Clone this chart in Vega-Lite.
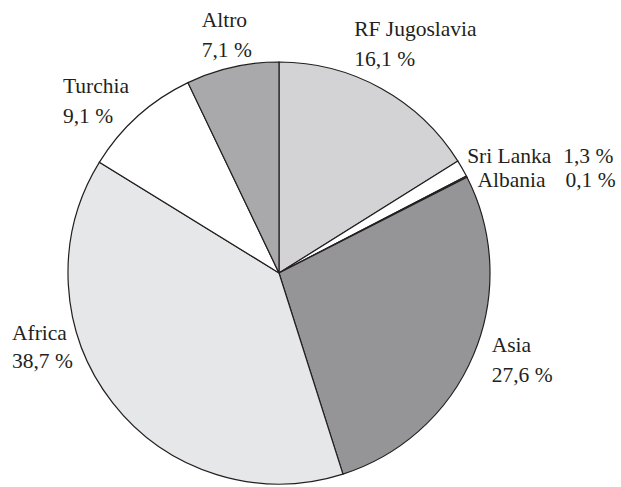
{
  "$schema": "https://vega.github.io/schema/vega-lite/v6.json",
  "width": 558,
  "height": 428,
  "autosize": {"type": "none"},
  "padding": {"left": 0, "top": 59, "right": 63, "bottom": 0},
  "background": "white",
  "config": {
    "view": {"stroke": null},
    "text": {"font": "Liberation Serif", "fontSize": 21.5, "color": "#231f20"}
  },
  "data": {
    "values": [
      {"name": "RF Jugoslavia", "value": 16.1, "ord": 1, "label": "RF Jugoslavia\n16,1 %", "pct": "16,1 %"},
      {"name": "Sri Lanka", "value": 1.3, "ord": 2, "label": "Sri Lanka", "pct": "1,3 %"},
      {"name": "Albania", "value": 0.1, "ord": 3, "label": "Albania", "pct": "0,1 %"},
      {"name": "Asia", "value": 27.6, "ord": 4, "label": "Asia\n27,6 %", "pct": "27,6 %"},
      {"name": "Africa", "value": 38.7, "ord": 5, "label": "Africa\n38,7 %", "pct": "38,7 %"},
      {"name": "Turchia", "value": 9.1, "ord": 6, "label": "Turchia\n9,1 %", "pct": "9,1 %"},
      {"name": "Altro", "value": 7.1, "ord": 7, "label": "Altro\n7,1 %", "pct": "7,1 %"}
    ]
  },
  "encoding": {
    "theta": {"field": "value", "type": "quantitative", "stack": true},
    "order": {"field": "ord", "type": "quantitative"}
  },
  "layer": [
    {
      "mark": {"type": "arc", "outerRadius": 211, "stroke": "#231f20", "strokeWidth": 1.2},
      "encoding": {
        "color": {
          "field": "name",
          "type": "nominal",
          "scale": {
            "domain": ["RF Jugoslavia", "Sri Lanka", "Albania", "Asia", "Africa", "Turchia", "Altro"],
            "range": ["#d3d3d5", "#ffffff", "#6d6e71", "#959597", "#e6e7e9", "#ffffff", "#a9a9ab"]
          },
          "legend": null
        }
      }
    },
    {
      "mark": {"type": "text", "radius": 250, "align": "left", "baseline": "alphabetic", "dx": -46, "dy": -18, "lineBreak": "\n", "lineHeight": 30},
      "encoding": {"text": {"condition": {"test": "datum.name === 'RF Jugoslavia'", "field": "label"}, "value": ""}}
    },
    {
      "mark": {"type": "text", "radius": 250, "align": "left", "baseline": "alphabetic", "dx": -22, "dy": -2, "lineBreak": "\n", "lineHeight": 30},
      "encoding": {"text": {"condition": {"test": "datum.name === 'Altro'", "field": "label"}, "value": ""}}
    },
    {
      "mark": {"type": "text", "radius": 250, "align": "left", "baseline": "alphabetic", "dx": -49, "dy": 6, "lineBreak": "\n", "lineHeight": 30},
      "encoding": {"text": {"condition": {"test": "datum.name === 'Turchia'", "field": "label"}, "value": ""}}
    },
    {
      "mark": {"type": "text", "radius": 250, "align": "left", "baseline": "alphabetic", "dx": -70, "dy": -87, "lineBreak": "\n", "lineHeight": 28},
      "encoding": {"text": {"condition": {"test": "datum.name === 'Africa'", "field": "label"}, "value": ""}}
    },
    {
      "mark": {"type": "text", "radius": 250, "align": "left", "baseline": "alphabetic", "dx": -18, "dy": -17, "lineBreak": "\n", "lineHeight": 30},
      "encoding": {"text": {"condition": {"test": "datum.name === 'Asia'", "field": "label"}, "value": ""}}
    },
    {
      "mark": {"type": "text", "radius": 250, "align": "left", "baseline": "alphabetic", "dx": -29, "dy": 14},
      "encoding": {"text": {"condition": {"test": "datum.name === 'Sri Lanka'", "field": "label"}, "value": ""}}
    },
    {
      "mark": {"type": "text", "radius": 250, "align": "left", "baseline": "alphabetic", "dx": 67, "dy": 14},
      "encoding": {"text": {"condition": {"test": "datum.name === 'Sri Lanka'", "field": "pct"}, "value": ""}}
    },
    {
      "mark": {"type": "text", "radius": 250, "align": "left", "baseline": "alphabetic", "dx": -24, "dy": 28},
      "encoding": {"text": {"condition": {"test": "datum.name === 'Albania'", "field": "label"}, "value": ""}}
    },
    {
      "mark": {"type": "text", "radius": 250, "align": "left", "baseline": "alphabetic", "dx": 64, "dy": 28},
      "encoding": {"text": {"condition": {"test": "datum.name === 'Albania'", "field": "pct"}, "value": ""}}
    }
  ]
}
